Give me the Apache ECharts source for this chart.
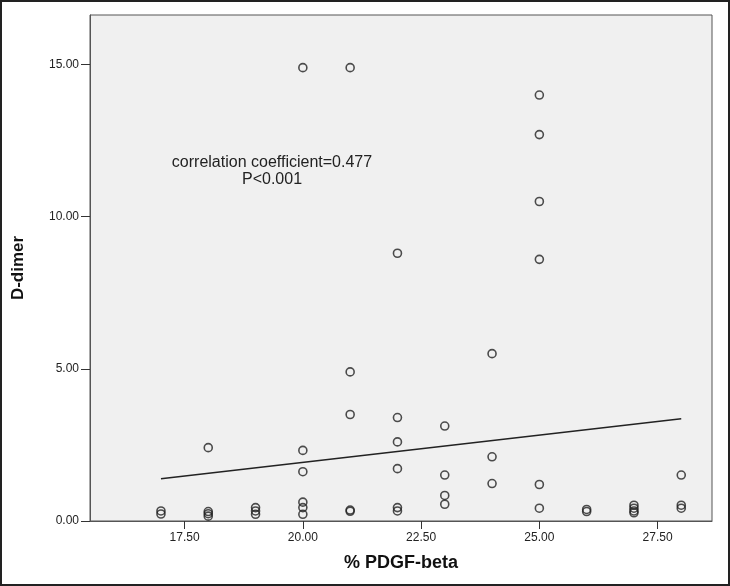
<!DOCTYPE html>
<html>
<head>
<meta charset="utf-8">
<script src="https://cdn.jsdelivr.net/npm/echarts@6/dist/echarts.min.js"></script>
<style>
  html, body { margin: 0; padding: 0; background: #fff; }
  #chart { width: 730px; height: 586px; }
</style>
</head>
<body>
<div id="chart"></div>
<script>
// 散点数据 (% PDGF-beta, D-dimer)
const pdgf = [
  17, 17,
  18, 18, 18, 18,
  19, 19, 19,
  20, 20, 20, 20, 20, 20,
  21, 21, 21, 21, 21,
  22, 22, 22, 22, 22, 22,
  23, 23, 23, 23,
  24, 24, 24,
  25, 25, 25, 25, 25, 25,
  26, 26,
  27, 27, 27, 27,
  28, 28, 28
];
const ddimer = [
  0.33, 0.23,
  2.41, 0.31, 0.24, 0.16,
  0.44, 0.33, 0.22,
  14.9, 2.32, 1.62, 0.62, 0.44, 0.22,
  14.9, 4.9, 3.5, 0.36, 0.32,
  8.8, 3.4, 2.6, 1.72, 0.44, 0.33,
  3.12, 1.51, 0.84, 0.55,
  5.5, 2.11, 1.23,
  14.0, 12.7, 10.5, 8.6, 1.2, 0.42,
  0.38, 0.31,
  0.52, 0.42, 0.33, 0.27,
  1.51, 0.52, 0.42
];
// 拟合直线的两端
const fitX = [17, 28];
const fitY = [1.39, 3.36];
// 刻度
const xTicks = [17.5, 20, 22.5, 25, 27.5];
const yTicks = [0, 5, 10, 15];

const chart = echarts.init(document.getElementById("chart"));
const fontFamily = "Liberation Sans, Arial, sans-serif";
const labelFont = { color: "#222", fontSize: 12, fontFamily: fontFamily };
const nameFont = { fontWeight: "bold", color: "#111", fontFamily: fontFamily };

const option = {
  backgroundColor: "#fff",
  animation: false,
  grid: {
    left: 90,
    top: 15,
    right: 18,
    bottom: 65,
    show: true,
    backgroundColor: "#f0f0f0",
    borderColor: "#555",
    borderWidth: 1,
  },
  xAxis: {
    type: "value",
    min: 15.5,
    max: 28.65,
    name: "% PDGF-beta",
    nameLocation: "middle",
    nameGap: 33,
    nameTextStyle: Object.assign({ fontSize: 18 }, nameFont),
    splitLine: { show: false },
    axisLine: { lineStyle: { color: "#555" } },
    axisTick: { show: true, length: 8, customValues: xTicks, lineStyle: { color: "#333" } },
    axisLabel: Object.assign({ customValues: xTicks, margin: 11, formatter: (v) => v.toFixed(2) }, labelFont),
  },
  yAxis: {
    type: "value",
    min: 0,
    max: 16.63,
    name: "D-dimer",
    nameLocation: "middle",
    nameGap: 63,
    nameRotate: 90,
    nameTextStyle: Object.assign({ fontSize: 17 }, nameFont),
    splitLine: { show: false },
    axisLine: { show: true, lineStyle: { color: "#555" } },
    axisTick: { show: true, length: 9, customValues: yTicks, lineStyle: { color: "#333" } },
    axisLabel: Object.assign({ customValues: yTicks, margin: 11, formatter: (v) => v.toFixed(2) }, labelFont),
  },
  graphic: [
    {
      type: "rect",
      shape: { x: 1, y: 1, width: 728, height: 584 },
      style: { fill: "none", stroke: "#222", lineWidth: 2 },
      z: 100,
    },
    {
      type: "text",
      x: 272,
      y: 154,
      style: {
        text: "correlation coefficient=0.477\nP<0.001",
        align: "center",
        verticalAlign: "top",
        lineHeight: 17,
        fontSize: 16,
        fill: "#222",
        fontFamily: fontFamily,
      },
    },
  ],
  series: [
    {
      type: "scatter",
      symbol: "circle",
      symbolSize: 8,
      data: pdgf.map((x, i) => [x, ddimer[i]]),
      itemStyle: { color: "rgba(0,0,0,0)", borderColor: "#222", borderWidth: 1.6 },
    },
    {
      type: "line",
      data: fitX.map((x, i) => [x, fitY[i]]),
      symbol: "none",
      lineStyle: { color: "#222", width: 1.6 },
    },
  ],
};
chart.setOption(option);
</script>
</body>
</html>
